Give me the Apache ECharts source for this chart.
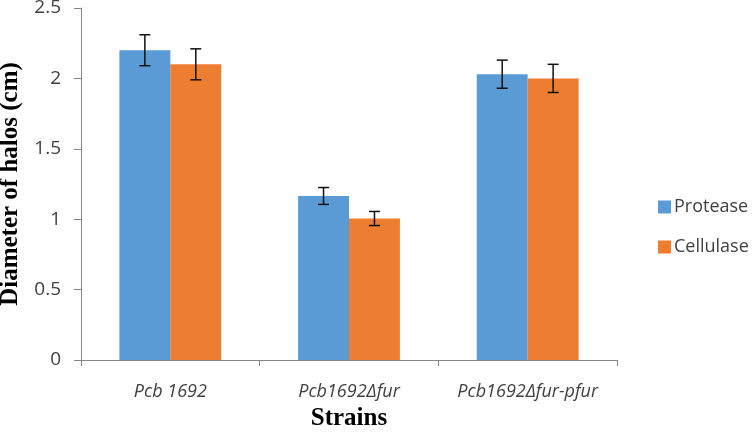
<!DOCTYPE html>
<html>
<head>
<meta charset="utf-8">
<script src="https://cdn.jsdelivr.net/npm/echarts@6/dist/echarts.min.js"></script>
<style>html,body{margin:0;padding:0;background:#fff;}#c{width:752px;height:433px;}</style>
</head>
<body>
<div id="c"></div>
<script>
const categories = ['Pcb 1692', 'Pcb1692\u0394fur', 'Pcb1692\u0394fur-pfur'];
const seriesNames = ['Protease', 'Cellulase'];
const protease = [2.20, 1.165, 2.03];
const cellulase = [2.10, 1.005, 2.00];
const proteaseErr = [0.11, 0.06, 0.10];
const cellulaseErr = [0.11, 0.05, 0.10];
const yTicks = [0, 0.5, 1, 1.5, 2, 2.5];

const colors = ['#5B9BD5', '#ED7D31'];
const gapPct = 0.43;

function errSeries(values, errs, side) {
  return {
    type: 'custom',
    z: 10,
    silent: true,
    data: values.map((v, i) => [i, v - errs[i], v + errs[i]]),
    renderItem: function (params, api) {
      const idx = api.value(0);
      const lo = api.coord([idx, api.value(1)]);
      const hi = api.coord([idx, api.value(2)]);
      const catW = api.size([1, 0])[0];
      const barW = catW * (1 - gapPct) / 2;
      const x = lo[0] + side * barW / 2;
      const cap = 5.5;
      const style = { stroke: '#111', lineWidth: 1.5 };
      return {
        type: 'group',
        children: [
          { type: 'line', shape: { x1: x, y1: lo[1], x2: x, y2: hi[1] }, style: style },
          { type: 'line', shape: { x1: x - cap, y1: lo[1], x2: x + cap, y2: lo[1] }, style: style },
          { type: 'line', shape: { x1: x - cap, y1: hi[1], x2: x + cap, y2: hi[1] }, style: style }
        ]
      };
    }
  };
}

const chart = echarts.init(document.getElementById('c'), null, { renderer: 'canvas' });
chart.setOption({
  animation: false,
  backgroundColor: '#fff',
  grid: { left: 81, right: 135, top: 8, bottom: 73, containLabel: false, outerBoundsMode: 'none' },
  legend: {
    orient: 'vertical',
    left: 653,
    top: 193,
    itemWidth: 13,
    itemHeight: 13,
    itemGap: 22,
    icon: 'rect',
    data: seriesNames,
    textStyle: { fontFamily: 'Open Sans', fontSize: 18, color: '#404040', lineHeight: 18, padding: [0, 0, 0, -2] }
  },
  xAxis: {
    type: 'category',
    data: categories,
    name: 'Strains',
    nameLocation: 'middle',
    nameGap: 41,
    nameTextStyle: { fontFamily: 'Liberation Serif', fontWeight: 'bold', fontSize: 25, color: '#000' },
    axisLine: { lineStyle: { color: '#868686', width: 1 } },
    axisTick: { show: true, length: 6, lineStyle: { color: '#868686' } },
    axisLabel: { interval: 0, fontFamily: 'Open Sans', fontStyle: 'italic', fontSize: 18, color: '#404040', margin: 23 }
  },
  yAxis: {
    type: 'value',
    min: yTicks[0],
    max: yTicks[yTicks.length - 1],
    interval: 0.5,
    name: 'Diameter of halos (cm)',
    nameLocation: 'middle',
    nameGap: 56,
    nameTextStyle: { fontFamily: 'Liberation Serif', fontWeight: 'bold', fontSize: 25, color: '#000' },
    axisLine: { show: true, lineStyle: { color: '#868686', width: 1 } },
    axisTick: { show: true, length: 7, lineStyle: { color: '#868686' } },
    splitLine: { show: false },
    axisLabel: { fontFamily: 'Open Sans', fontSize: 19, color: '#404040', margin: 20 }
  },
  series: [
    { name: seriesNames[0], type: 'bar', data: protease, barGap: '0%', barCategoryGap: '43%', itemStyle: { color: colors[0] } },
    { name: seriesNames[1], type: 'bar', data: cellulase, barGap: '0%', barCategoryGap: '43%', itemStyle: { color: colors[1] } },
    errSeries(protease, proteaseErr, -1),
    errSeries(cellulase, cellulaseErr, 1)
  ]
});
</script>
</body>
</html>
